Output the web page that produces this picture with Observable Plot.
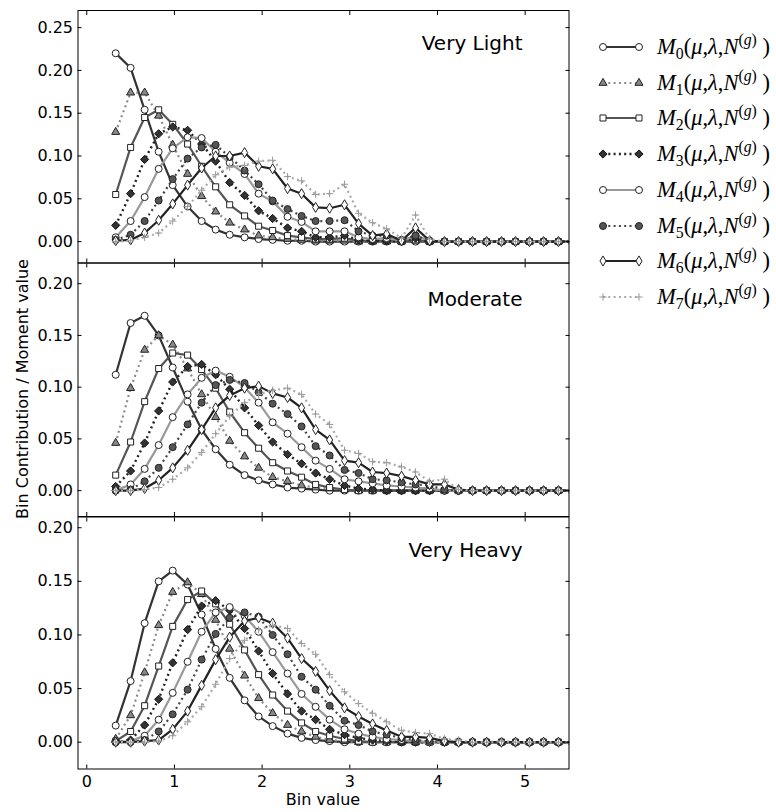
<!DOCTYPE html>
<html><head><meta charset="utf-8">
<script src="https://cdn.jsdelivr.net/npm/d3@7"></script>
<script src="https://cdn.jsdelivr.net/npm/@observablehq/plot@0.6"></script>
<style>
html,body{margin:0;padding:0;background:#fff;}
#root{position:relative;width:776px;height:812px;overflow:hidden;font-family:"DejaVu Sans",sans-serif;color:#000;}
.panel{position:absolute;left:0;}
.lab{position:absolute;white-space:nowrap;font-size:16px;line-height:16px;}
.legtxt{position:absolute;left:657px;font-family:"Liberation Serif","DejaVu Serif",serif;font-size:22.5px;line-height:24px;white-space:nowrap;}
.legtxt sub{font-size:0.7em;vertical-align:-0.3em;line-height:0;font-style:normal;}
.legtxt sup{font-size:0.7em;vertical-align:0.6em;line-height:0;}
.legtxt .gap{display:inline-block;width:0.25em;}
</style></head><body><div id="root"></div>
<script>
// ---- data ----
const bins = [0.33,0.50,0.66,0.82,0.98,1.15,1.31,1.47,1.63,1.80,1.96,2.12,2.29,2.45,2.61,2.77,2.94,3.10,3.26,3.42,3.59,3.75,3.91,4.08,4.24,4.40,4.56,4.73,4.89,5.05,5.21,5.38,5.54];

const seriesNames = ["0","1","2","3","4","5","6","7"];
const panelLabels = ["Very Light","Moderate","Very Heavy"];
const xTicks = [0,1,2,3,4,5];
const yTicksTop = [0,0.05,0.10,0.15,0.20,0.25];
const yTicksRest = [0,0.05,0.10,0.15,0.20];
const xLabel = "Bin value";
const yLabel = "Bin Contribution / Moment value";

const veryLightM0 = [0.220,0.203,0.154,0.105,0.066,0.041,0.024,0.014,0.008,0.005, 0.003,0.002,0.001,0.001,0,0,0,0,0,0, 0,0,0,0,0,0,0,0,0,0, 0,0,0];
const veryLightM1 = [0.128,0.174,0.174,0.147,0.113,0.079,0.053,0.035,0.022,0.014, 0.007,0.005,0.003,0.002,0.001,0.001,0.001,0,0,0, 0,0.001,0,0,0,0,0,0,0,0, 0,0,0];
const veryLightM2 = [0.055,0.110,0.145,0.154,0.137,0.114,0.088,0.064,0.043,0.030, 0.018,0.013,0.007,0.005,0.003,0.003,0.004,0.001,0.001,0.001, 0,0.002,0,0,0,0,0,0,0,0, 0,0,0];
const veryLightM3 = [0.019,0.056,0.096,0.126,0.134,0.130,0.114,0.094,0.069,0.054, 0.036,0.027,0.016,0.012,0.005,0.005,0.007,0.002,0.001,0.001, 0,0.004,0,0,0,0,0,0,0,0, 0,0,0];
const veryLightM4 = [0.005,0.024,0.052,0.085,0.109,0.122,0.121,0.105,0.092,0.079, 0.056,0.047,0.029,0.023,0.012,0.012,0.012,0.005,0.003,0.004, 0.001,0.007,0.001,0,0,0,0,0,0,0, 0,0,0];
const veryLightM5 = [0.002,0.008,0.024,0.048,0.073,0.097,0.110,0.113,0.099,0.083, 0.067,0.048,0.038,0.030,0.024,0.024,0.025,0.012,0.007,0.007, 0.002,0.007,0.001,0,0,0,0,0,0,0, 0,0,0];
const veryLightM6 = [0.001,0.002,0.010,0.025,0.044,0.066,0.086,0.100,0.100,0.104, 0.088,0.085,0.062,0.056,0.040,0.039,0.043,0.021,0.007,0.009, 0.001,0.016,0.001,0,0,0,0,0,0,0, 0,0,0];
const veryLightM7 = [0,0.001,0.005,0.010,0.024,0.041,0.060,0.078,0.087,0.089, 0.094,0.095,0.076,0.071,0.055,0.056,0.067,0.033,0.022,0.015, 0.004,0.031,0.003,0,0,0,0,0,0,0, 0,0,0];

const moderateM0 = [0.112,0.162,0.169,0.150,0.119,0.086,0.059,0.040,0.025,0.015, 0.010,0.006,0.003,0.002,0.001,0,0,0,0,0, 0,0,0,0,0,0,0,0,0,0, 0,0,0];
const moderateM1 = [0.046,0.099,0.136,0.150,0.141,0.118,0.093,0.071,0.048,0.033, 0.022,0.013,0.009,0.005,0.003,0.002,0.001,0,0,0, 0,0,0,0,0,0,0,0,0,0, 0,0,0];
const moderateM2 = [0.015,0.047,0.086,0.118,0.133,0.131,0.117,0.099,0.076,0.056, 0.041,0.027,0.019,0.013,0.006,0.003,0.001,0,0,0, 0,0,0,0,0,0,0,0,0,0, 0,0,0];
const moderateM3 = [0.004,0.019,0.046,0.077,0.105,0.120,0.122,0.112,0.098,0.080, 0.063,0.047,0.035,0.026,0.017,0.011,0.005,0.002,0.001,0, 0,0,0,0,0,0,0,0,0,0, 0,0,0];
const moderateM4 = [0,0.006,0.021,0.044,0.071,0.093,0.109,0.116,0.110,0.100, 0.085,0.066,0.055,0.042,0.029,0.021,0.011,0.009,0.007,0.005, 0.004,0.003,0.002,0,0,0,0,0,0,0, 0,0,0];
const moderateM5 = [0,0.001,0.009,0.022,0.042,0.064,0.085,0.102,0.107,0.104, 0.095,0.084,0.074,0.062,0.043,0.034,0.020,0.017,0.011,0.010, 0.008,0.006,0.005,0.001,0,0,0,0,0,0, 0,0,0];
const moderateM6 = [0,0,0.002,0.010,0.022,0.039,0.059,0.080,0.092,0.099, 0.101,0.094,0.090,0.080,0.059,0.049,0.029,0.027,0.018,0.017, 0.014,0.010,0.006,0.006,0.001,0,0,0,0,0, 0,0,0];
const moderateM7 = [0,0,0.001,0.003,0.011,0.022,0.037,0.055,0.072,0.085, 0.093,0.097,0.099,0.093,0.074,0.064,0.039,0.036,0.028,0.027, 0.023,0.018,0.009,0.011,0.001,0,0,0,0,0, 0,0,0];

const veryHeavyM0 = [0.0155,0.057,0.111,0.150,0.160,0.147,0.119,0.087,0.060,0.039, 0.024,0.015,0.008,0.004,0.002,0.001,0,0,0,0, 0,0,0,0,0,0,0,0,0,0, 0,0,0];
const veryHeavyM1 = [0.003,0.025,0.065,0.109,0.140,0.149,0.138,0.114,0.087,0.062, 0.041,0.027,0.016,0.010,0.005,0.002,0.001,0,0,0, 0,0,0,0,0,0,0,0,0,0, 0,0,0];
const veryHeavyM2 = [0.001,0.010,0.034,0.071,0.108,0.133,0.141,0.129,0.110,0.086, 0.063,0.044,0.029,0.018,0.010,0.006,0.003,0.001,0,0, 0,0,0,0,0,0,0,0,0,0, 0,0,0];
const veryHeavyM3 = [0,0.002,0.016,0.040,0.074,0.105,0.127,0.132,0.123,0.106, 0.085,0.064,0.045,0.029,0.021,0.012,0.007,0.004,0.002,0.001, 0,0,0,0,0,0,0,0,0,0, 0,0,0];
const veryHeavyM4 = [0,0.001,0.006,0.021,0.046,0.075,0.103,0.121,0.126,0.118, 0.103,0.084,0.064,0.045,0.033,0.021,0.012,0.008,0.005,0.003, 0.002,0.001,0,0,0,0,0,0,0,0, 0,0,0];
const veryHeavyM5 = [0,0,0.002,0.010,0.026,0.049,0.077,0.101,0.116,0.121, 0.117,0.100,0.082,0.061,0.049,0.034,0.020,0.016,0.010,0.007, 0.004,0.002,0.001,0,0,0,0,0,0,0, 0,0,0];
const veryHeavyM6 = [0,0,0.001,0.002,0.012,0.029,0.053,0.077,0.098,0.113, 0.116,0.111,0.097,0.078,0.066,0.048,0.032,0.024,0.017,0.011, 0.005,0.005,0.004,0.001,0,0,0,0,0,0, 0,0,0];
const veryHeavyM7 = [0,0,0,0.001,0.006,0.019,0.033,0.054,0.078,0.095, 0.105,0.109,0.106,0.092,0.082,0.063,0.047,0.036,0.027,0.019, 0.011,0.009,0.008,0.003,0.002,0,0,0.001,0,0, 0,0,0];

// ---- styles ----
const thinDiamond = {
  draw(ctx, size) {
    const h = Math.sqrt(size) * 0.75, w = h * 0.6;
    ctx.moveTo(0, -h); ctx.lineTo(w, 0); ctx.lineTo(0, h); ctx.lineTo(-w, 0); ctx.closePath();
  }
};
const DOT = "2,3.3";
const styles = [
  {line:"#333", lw:2.2, dash:null, symbol:"circle", fill:"#fff", stroke:"#222", r:3.5},
  {line:"#8c8c8c", lw:2.2, dash:DOT, symbol:"triangle", fill:"#888", stroke:"#222", r:3.0},
  {line:"#555", lw:2.2, dash:null, symbol:"square", fill:"#fff", stroke:"#222", r:3.4},
  {line:"#222", lw:2.4, dash:DOT, symbol:"diamond2", fill:"#333", stroke:"#111", r:3.7},
  {line:"#999", lw:2.2, dash:null, symbol:"circle", fill:"#fff", stroke:"#222", r:3.5},
  {line:"#444", lw:2.2, dash:DOT, symbol:"circle", fill:"#555", stroke:"#222", r:3.5},
  {line:"#222", lw:2.2, dash:null, symbol:thinDiamond, fill:"#fff", stroke:"#222", r:3.8},
  {line:"#aaa", lw:2.2, dash:DOT, symbol:"plus", fill:"none", stroke:"#999", r:2.5}
];
const symbolMap = {circle:d3.symbolCircle, triangle:d3.symbolTriangle, square:d3.symbolSquare, diamond2:d3.symbolDiamond2, plus:d3.symbolPlus};

const panels = [
  {series:[veryLightM0,veryLightM1,veryLightM2,veryLightM3,veryLightM4,veryLightM5,veryLightM6,veryLightM7],
   domain:[-0.025,0.27], ticks:yTicksTop, label:panelLabels[0], labelDy:25,
   top:0, height:263, mt:10, mb:0.5, showX:false},
  {series:[moderateM0,moderateM1,moderateM2,moderateM3,moderateM4,moderateM5,moderateM6,moderateM7],
   domain:[-0.025,0.22], ticks:yTicksRest, label:panelLabels[1], labelDy:29,
   top:262, height:254.5, mt:0.5, mb:0.5, showX:false},
  {series:[veryHeavyM0,veryHeavyM1,veryHeavyM2,veryHeavyM3,veryHeavyM4,veryHeavyM5,veryHeavyM6,veryHeavyM7],
   domain:[-0.025,0.21], ticks:yTicksRest, label:panelLabels[2], labelDy:26,
   top:515.5, height:296.5, mt:0.5, mb:44, showX:true}
];

const root = document.getElementById("root");

panels.forEach(p => {
  const marks = [];
  p.series.forEach((arr, i) => {
    if (arr.length !== bins.length) throw new Error("length mismatch " + p.label + " M" + i + ": " + arr.length);
    const st = styles[i];
    const data = bins.map((x, j) => ({x, y: arr[j]}));
    const lineOpts = {x:"x", y:"y", stroke:st.line, strokeWidth:st.lw, clip:true};
    if (st.dash) { lineOpts.strokeDasharray = st.dash; lineOpts.strokeLinecap = "butt"; }
    marks.push(Plot.line(data, lineOpts));
    marks.push(Plot.dot(data, {x:"x", y:"y", symbol:st.symbol, r:st.r, fill:st.fill, stroke:st.stroke, strokeWidth:1, clip:true}));
  });
  marks.push(Plot.text([p.label], {text:d => d, frameAnchor:"top-right", dx:-46.5, dy:p.labelDy, fontSize:20, textAnchor:"end", lineAnchor:"top", fill:"#000"}));
  marks.push(Plot.axisY({anchor:"left", ticks:p.ticks, tickSize:-4, tickPadding:9, tickFormat:d3.format(".2f"), label:null, fontSize:16}));
  marks.push(Plot.axisY({anchor:"right", ticks:p.ticks, tickSize:-4, fill:"none", label:null}));
  marks.push(Plot.axisX({anchor:"top", ticks:xTicks, tickSize:-4, fill:"none", label:null}));
  if (p.showX) {
    marks.push(Plot.axisX({anchor:"bottom", ticks:xTicks, tickSize:-4, tickPadding:11, tickFormat:d3.format("d"), label:null, fontSize:16}));
  } else {
    marks.push(Plot.axisX({anchor:"bottom", ticks:xTicks, tickSize:-4, fill:"none", label:null}));
  }
  marks.push(Plot.frame({stroke:"#000", strokeWidth:1}));

  const chart = Plot.plot({
    width:580, height:p.height,
    marginLeft:77.5, marginRight:11.5, marginTop:p.mt, marginBottom:p.mb,
    x:{domain:[-0.1,5.5]},
    y:{domain:p.domain},
    style:{fontFamily:"DejaVu Sans", fontSize:"16px", color:"#000", background:"transparent", overflow:"visible"},
    marks
  });
  chart.classList.add("panel");
  chart.style.position = "absolute";
  chart.style.top = p.top + "px";
  chart.style.left = "0px";
  root.appendChild(chart);
});

// axis titles
const xl = document.createElement("div");
xl.className = "lab"; xl.textContent = xLabel;
xl.style.left = "323px"; xl.style.top = "792px"; xl.style.transform = "translateX(-50%)";
root.appendChild(xl);

const yl = document.createElement("div");
yl.className = "lab"; yl.textContent = yLabel;
yl.style.left = "23px"; yl.style.top = "389px"; yl.style.transform = "translate(-50%,-50%) rotate(-90deg)";
root.appendChild(yl);

// legend
styles.forEach((st, i) => {
  const cy = 47 + 35.7 * i;
  const svg = d3.create("svg").attr("width", 46).attr("height", 24)
    .style("position", "absolute").style("left", "598px").style("top", (cy - 12) + "px").style("overflow", "visible");
  const ln = svg.append("line").attr("x1", 5).attr("x2", 41).attr("y1", 12).attr("y2", 12)
    .attr("stroke", st.line).attr("stroke-width", st.lw);
  if (st.dash) ln.attr("stroke-dasharray", st.dash).attr("stroke-linecap", "butt");
  const type = typeof st.symbol === "string" ? symbolMap[st.symbol] : st.symbol;
  const path = d3.symbol(type, Math.PI * st.r * st.r)();
  [5, 41].forEach(x => svg.append("path").attr("d", path).attr("transform", `translate(${x},12)`)
    .attr("fill", st.fill).attr("stroke", st.stroke).attr("stroke-width", 1));
  root.appendChild(svg.node());

  const t = document.createElement("div");
  t.className = "legtxt";
  t.style.top = (cy - 12) + "px";
  t.innerHTML = `<i>M</i><sub>${seriesNames[i]}</sub>(<i>μ</i>,<i>λ</i>,<i>N</i><sup>(<i>g</i>)</sup><span class="gap"></span>)`;
  root.appendChild(t);
});
</script></body></html>
